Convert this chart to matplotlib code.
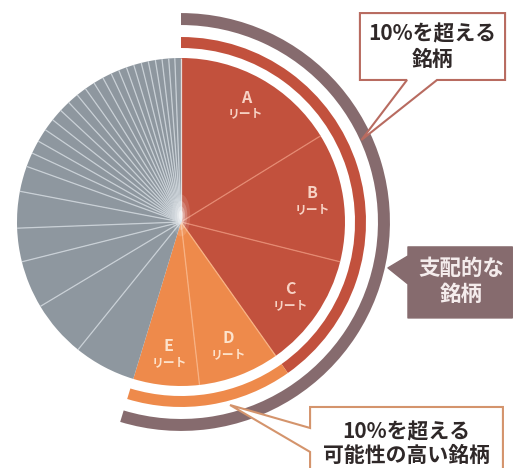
import matplotlib
matplotlib.use('Agg')
import matplotlib.pyplot as plt
from matplotlib.patches import Polygon, Ellipse
import numpy as np

plt.rcParams['font.family'] = ['Noto Sans CJK JP', 'DejaVu Sans']

# ---- data ----
major_names = ['A', 'B', 'C', 'D', 'E']
major_unit = 'リート'
major_values = [16.2, 12.7, 11.3, 8.0, 6.5]
other_values = [6.1, 5.6, 4.7, 3.3, 3.6, 2.5,
                1.4, 1.3, 1.3, 1.2, 1.2, 1.1, 1.1, 1.0, 1.0, 1.0, 0.9,
                0.8, 0.8, 0.75, 0.75, 0.7, 0.7, 0.65, 0.65, 0.6, 0.6]
over10_count = 3          # A, B, C
likely_count = 2          # D, E
label_over10 = '10%を超える\n銘柄'
label_dominant = '支配的な\n銘柄'
label_likely = '10%を超える\n可能性の高い銘柄'

# ---- styles ----
RED = '#c2513d'
ORANGE = '#ee8a4b'
GRAY = '#8e979f'
MAUVE = '#866b6e'
RED_LINE = '#e58a72'
ORANGE_LINE = '#f8b284'
GRAY_LINE = '#c9d0d6'

fig = plt.figure(figsize=(5.15, 4.68), dpi=100)
ax = fig.add_axes([0, 0, 1, 1])

values = major_values + other_values
kinds = ['red'] * over10_count + ['orange'] * likely_count + ['gray'] * len(other_values)
cmap = {'red': RED, 'orange': ORANGE, 'gray': GRAY}
colors = [cmap[k] for k in kinds]

wedges, _ = ax.pie(values, colors=colors, startangle=90, counterclock=False,
                   radius=1.0, wedgeprops=dict(linewidth=0))

# separator lines derived from the data
total = sum(values)
cum = np.cumsum([0] + values)
angles = 90 - 360 * cum / total
n = len(values)
for i in range(n):
    a = np.deg2rad(angles[i])
    prev_k = kinds[i - 1]
    k = kinds[i]
    if prev_k == 'orange' and k == 'gray':
        continue
    if k == 'red' and prev_k == 'red':
        c = RED_LINE
    elif 'orange' in (k, prev_k):
        c = ORANGE_LINE
    elif k == 'gray' and prev_k == 'gray':
        c = GRAY_LINE
    else:
        c = '#e6dcdc'
    ax.plot([0, np.cos(a)], [0, np.sin(a)], color=c, lw=0.9, solid_capstyle='butt', zorder=3)

# soft white glow at the centre
for r, al in [(0.16, 0.12), (0.11, 0.2), (0.07, 0.3), (0.04, 0.45)]:
    ax.add_patch(Ellipse((0, 0.04), r * 0.7, r * 1.6, facecolor='white',
                         edgecolor='none', alpha=al, zorder=3.5))

# labels A..E
for i, name in enumerate(major_names):
    mid = np.deg2rad((angles[i] + angles[i + 1]) / 2)
    x, y = 0.81 * np.cos(mid), 0.81 * np.sin(mid)
    tc = '#f7d3c5' if kinds[i] == 'red' else '#fde3cc'
    ax.text(x, y + 0.05, name, ha='center', va='center', fontsize=11.5,
            color=tc, fontweight='bold', zorder=4)
    ax.text(x, y - 0.05, major_unit, ha='center', va='center', fontsize=8.5,
            color=tc, fontweight='bold', zorder=4)

# group rings
s_over = sum(major_values[:over10_count])
s_likely = sum(major_values[over10_count:over10_count + likely_count])
s_other = sum(other_values)
ax.pie([s_over, s_likely, s_other], colors=[RED, ORANGE, 'none'], startangle=90,
       counterclock=False, radius=1.128, wedgeprops=dict(width=0.067, linewidth=0))
ax.pie([s_over + s_likely, s_other], colors=[MAUVE, 'none'], startangle=90,
       counterclock=False, radius=1.274, wedgeprops=dict(width=0.073, linewidth=0))

# callout: top
top_box = Polygon([(1.091, 1.274), (1.976, 1.274), (1.976, 0.866), (1.561, 0.866),
                   (1.10, 0.50), (1.378, 0.866), (1.091, 0.866)], closed=True,
                  facecolor='white', edgecolor='#b86b60', lw=1.5, joinstyle='miter', zorder=6)
ax.add_patch(top_box)
ax.text(1.535, 1.07, label_over10, ha='center', va='center', fontsize=15,
        fontweight='bold', color='#2f2828', linespacing=1.3, zorder=7)

# callout: right (dominant)
right_box = Polygon([(1.384, -0.152), (2.02, -0.152), (2.02, -0.585), (1.384, -0.585),
                     (1.384, -0.378), (1.262, -0.28), (1.384, -0.207)], closed=True,
                    facecolor=MAUVE, edgecolor=MAUVE, lw=1, joinstyle='round', zorder=6)
ax.add_patch(right_box)
ax.text(1.71, -0.365, label_dominant, ha='center', va='center', fontsize=15.5,
        fontweight='bold', color='#f4ecec', linespacing=1.3, zorder=7)

# callout: bottom
bot_box = Polygon([(0.787, -1.128), (1.963, -1.128), (1.963, -1.62), (0.787, -1.62),
                   (0.787, -1.402), (0.299, -1.116), (0.787, -1.256)], closed=True,
                  facecolor='white', edgecolor='#d4946c', lw=1.5, joinstyle='miter', zorder=6)
ax.add_patch(bot_box)
ax.text(1.375, -1.35, label_likely, ha='center', va='center', fontsize=15,
        fontweight='bold', color='#2f2828', linespacing=1.15, zorder=7)

ax.set_xlim(-181 / 164, 334 / 164)
ax.set_ylim(-246 / 164, 222 / 164)
ax.set_aspect('auto')
ax.axis('off')

fig.savefig('out.png', dpi=100)
